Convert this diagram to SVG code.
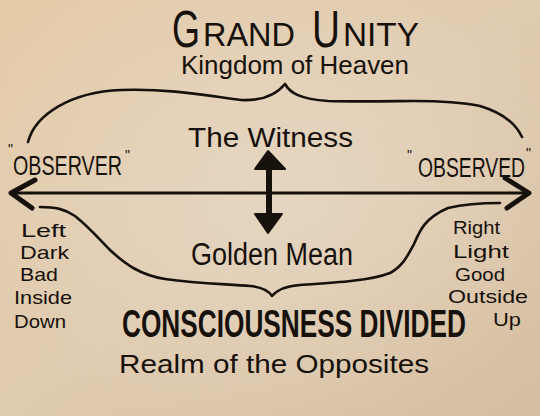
<svg xmlns="http://www.w3.org/2000/svg" width="540" height="416" viewBox="0 0 540 416">
<defs>
<linearGradient id="bg" x1="0" y1="0" x2="1" y2="1">
<stop offset="0" stop-color="#e6cba8"/>
<stop offset="0.5" stop-color="#dfcbb0"/>
<stop offset="1" stop-color="#d6bea0"/>
</linearGradient>
<radialGradient id="glow" cx="0.5" cy="0.45" r="0.6">
<stop offset="0" stop-color="#e7d8c4" stop-opacity="0.85"/>
<stop offset="1" stop-color="#e7d8c4" stop-opacity="0"/>
</radialGradient>
</defs>
<style>
text{font-family:"Liberation Sans",Arial,sans-serif;fill:#17110c;}
.ln{fill:none;stroke:#17110c;stroke-linecap:round;stroke-linejoin:round;}
.q{font-size:14px;}
.lst{font-size:19px;}
</style>
<rect width="540" height="416" fill="#d9c3a6"/>
<rect width="540" height="416" fill="url(#bg)"/>
<rect width="540" height="416" fill="url(#glow)"/>

<g id="connectors">
<path class="ln" stroke-width="2.6" d="M28,142 C35,115 70,92 121,90 C170,88 215,97 241,100 C262,101 276,95 285,84 C290,93 300,99 328,101 C360,102 400,101 414,101 C445,101 465,103 480,106 C500,112 515,122 522,137"/>
<path class="ln" stroke-width="2.6" d="M40,207 C55,207 65,209 75,216 C90,228 98,238 110,250 C125,264 140,275 165,279 C200,284 230,284 250,286 C262,287 268,290 272,296 C278,289 286,286 300,285 C330,283 370,281 390,273 C403,266 408,255 414,244 C420,230 425,218 448,208 C465,204 485,203 500,203"/>
<path class="ln" stroke-width="3" d="M12,193 L529,193"/>
<path class="ln" stroke-width="5" d="M35,180 L11,193 L32,208"/>
<path class="ln" stroke-width="5" d="M505,178 L529,193 L507,208"/>
<path class="ln" stroke-width="6" d="M269,165 L269,217"/>
<path fill="#17110c" stroke="#17110c" stroke-width="2" stroke-linejoin="round" d="M268,151 L285,169 L255,169 Z"/>
<path fill="#17110c" stroke="#17110c" stroke-width="2" stroke-linejoin="round" d="M255,214 L282,214 L268,233 Z"/>
</g>

<g id="title">
<text x="172" y="47" font-size="51" textLength="28" lengthAdjust="spacingAndGlyphs">G</text>
<text x="203" y="46" font-size="33" textLength="92" lengthAdjust="spacingAndGlyphs">RAND</text>
<text x="312" y="47" font-size="51" textLength="28" lengthAdjust="spacingAndGlyphs">U</text>
<text x="343" y="46" font-size="33" textLength="76" lengthAdjust="spacingAndGlyphs">NITY</text>
</g>
<g id="kingdom">
<text x="181" y="74" font-size="26" textLength="228" lengthAdjust="spacingAndGlyphs">Kingdom of Heaven</text>
</g>
<g id="witness">
<text x="188" y="147" font-size="27" textLength="165" lengthAdjust="spacingAndGlyphs">The Witness</text>
</g>
<g id="observer">
<text><tspan class="q" x="8" y="154">"</tspan><tspan x="13" y="175" font-size="28" textLength="109" lengthAdjust="spacingAndGlyphs">OBSERVER</tspan><tspan class="q" x="125" y="160">"</tspan></text>
</g>
<g id="observed">
<text><tspan class="q" x="407" y="160">"</tspan><tspan x="418" y="177" font-size="27" textLength="107" lengthAdjust="spacingAndGlyphs">OBSERVED</tspan><tspan class="q" x="526" y="158">"</tspan></text>
</g>
<g id="golden-mean">
<text x="191" y="265" font-size="31" textLength="162" lengthAdjust="spacingAndGlyphs">Golden Mean</text>
</g>
<g id="left-list">
<text class="lst" x="21" y="237" textLength="45" lengthAdjust="spacingAndGlyphs">Left</text>
<text class="lst" x="20" y="259" textLength="49" lengthAdjust="spacingAndGlyphs">Dark</text>
<text class="lst" x="20" y="281" textLength="38" lengthAdjust="spacingAndGlyphs">Bad</text>
<text class="lst" x="14" y="304" textLength="58" lengthAdjust="spacingAndGlyphs">Inside</text>
<text class="lst" x="14" y="328" textLength="52" lengthAdjust="spacingAndGlyphs">Down</text>
</g>
<g id="right-list">
<text class="lst" x="453" y="234" textLength="47" lengthAdjust="spacingAndGlyphs">Right</text>
<text class="lst" x="453" y="258" textLength="56" lengthAdjust="spacingAndGlyphs">Light</text>
<text class="lst" x="455" y="281" textLength="50" lengthAdjust="spacingAndGlyphs">Good</text>
<text class="lst" x="448" y="303" textLength="80" lengthAdjust="spacingAndGlyphs">Outside</text>
<text class="lst" x="493" y="326" textLength="28" lengthAdjust="spacingAndGlyphs">Up</text>
</g>
<g id="consciousness">
<text x="122" y="337" font-size="38" font-weight="700" textLength="344" lengthAdjust="spacingAndGlyphs">CONSCIOUSNESS DIVIDED</text>
</g>
<g id="realm">
<text x="119" y="373" font-size="26" textLength="310" lengthAdjust="spacingAndGlyphs">Realm of the Opposites</text>
</g>
</svg>
